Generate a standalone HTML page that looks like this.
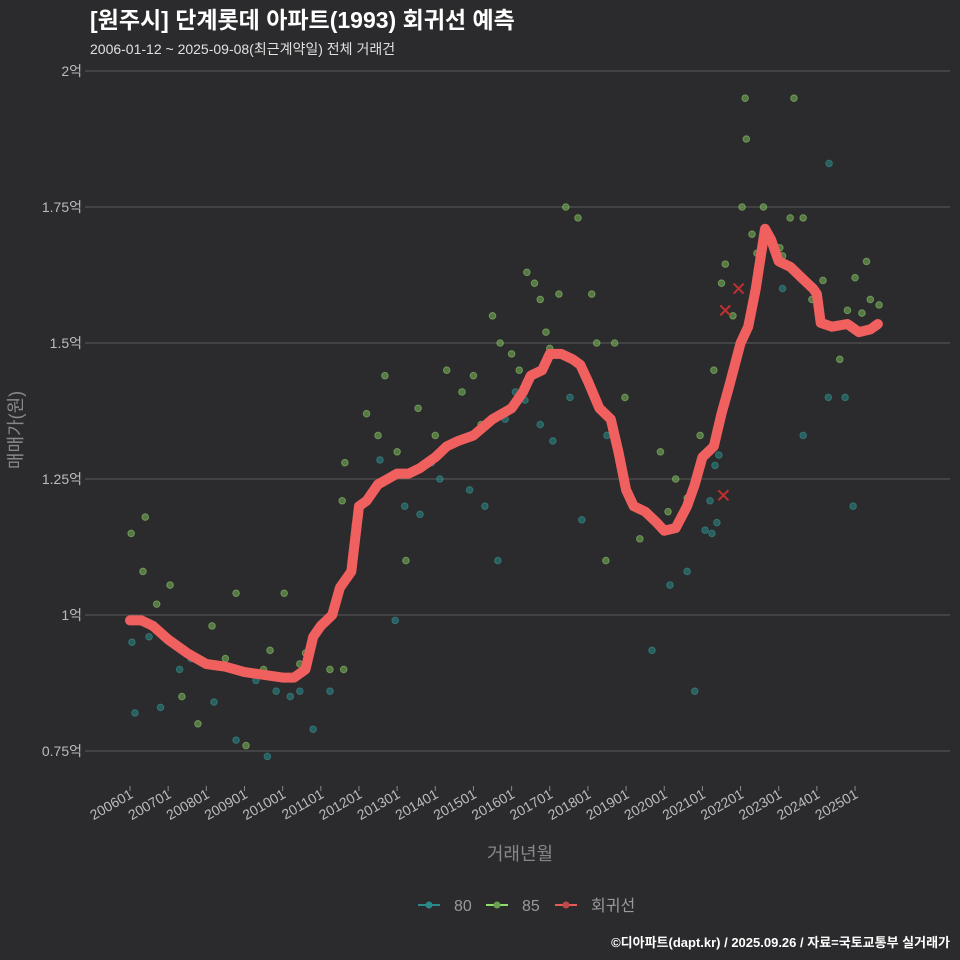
<!DOCTYPE html>
<html><head><meta charset="utf-8"><style>
body{margin:0;background:#2b2a2c;}
svg{display:block;font-family:"Liberation Sans","Noto Sans CJK KR",sans-serif;}
</style></head><body>
<svg id="chart" width="960" height="960" viewBox="0 0 960 960">
<rect width="960" height="960" fill="#2b2a2c"/>
<text x="90" y="28" fill="#ffffff" font-size="23" font-weight="bold">[원주시] 단계롯데 아파트(1993) 회귀선 예측</text>
<text x="90" y="54" fill="#e0e0e0" font-size="14">2006-01-12 ~ 2025-09-08(최근계약일) 전체 거래건</text>
<g id="grid"></g>
<g id="xaxis"></g>
<g id="pts"></g>
<g id="line"></g>
<text x="520" y="860" fill="#888" font-size="18" text-anchor="middle">거래년월</text>
<text transform="translate(22,430) rotate(-90)" fill="#888" font-size="18" text-anchor="middle">매매가(원)</text>
<g>
<g><line x1="418" y1="905" x2="440" y2="905" stroke="#2a8a8a" stroke-width="2"/><circle cx="429" cy="905" r="3.5" fill="#2a8a8a"/><text x="454" y="911" fill="#999" font-size="16">80</text></g>
<g><line x1="486" y1="905" x2="508" y2="905" stroke="#8fdc6a" stroke-width="2"/><circle cx="497" cy="905" r="3.5" fill="#6aa050"/><text x="522" y="911" fill="#999" font-size="16">85</text></g>
<g><line x1="555" y1="905" x2="577" y2="905" stroke="#e85a5a" stroke-width="2"/><circle cx="566" cy="905" r="3.5" fill="#c04848"/><text x="591" y="911" fill="#999" font-size="16">회귀선</text></g>
</g>
<text x="950" y="947" fill="#ffffff" font-size="13" font-weight="bold" text-anchor="end">©디아파트(dapt.kr) / 2025.09.26 / 자료=국토교통부 실거래가</text>
</svg>
<script>
const yTicks=[0.75,1,1.25,1.5,1.75,2];
const yTickLabels=["0.75억","1억","1.25억","1.5억","1.75억","2억"];
const xTicks=[2006,2007,2008,2009,2010,2011,2012,2013,2014,2015,2016,2017,2018,2019,2020,2021,2022,2023,2024,2025];
const xTickLabels=["200601","200701","200801","200901","201001","201101","201201","201301","201401","201501","201601","201701","201801","201901","202001","202101","202201","202301","202401","202501"];
const s80Years=[2006.05,2006.13,2006.5,2006.8,2007.3,2008.2,2008.78,2009.6,2009.83,2010.45,2010.8,2011.24,2011.9,2012.55,2012.95,2013.2,2013.6,2014.12,2014.9,2015.3,2015.64,2015.83,2016.35,2016.75,2017.08,2017.53,2017.84,2018.5,2019.15,2019.68,2020.15,2020.6,2020.8,2021.07,2021.2,2021.33,2021.43,2023.1,2023.64,2024.3,2024.74,2024.95,2024.32,2007.6,2009.3,2010.2,2013.9,2016.1,2021.25,2021.38];
const s80Values=[0.95,0.82,0.96,0.83,0.90,0.84,0.77,0.74,0.86,0.86,0.79,0.86,1.165,1.285,0.99,1.20,1.185,1.25,1.23,1.20,1.10,1.36,1.395,1.35,1.32,1.40,1.175,1.33,1.21,0.935,1.055,1.08,0.86,1.156,1.21,1.275,1.294,1.60,1.33,1.40,1.40,1.20,1.83,0.92,0.88,0.85,1.28,1.41,1.15,1.17];
const s85Years=[2006.03,2006.4,2006.34,2006.7,2007.05,2007.36,2007.78,2008.15,2008.78,2009.04,2010.04,2009.67,2010.45,2011.24,2011.6,2011.56,2011.63,2012.2,2012.68,2012.5,2013.23,2013.55,2014.3,2014.7,2015.0,2015.5,2015.7,2016.0,2016.4,2016.6,2016.75,2016.9,2017.24,2017.42,2017.74,2018.1,2018.23,2018.47,2018.97,2019.36,2019.9,2020.1,2020.6,2020.94,2021.3,2021.5,2021.6,2022.04,2022.12,2022.15,2022.43,2022.6,2023.03,2023.3,2023.4,2023.64,2023.87,2024.16,2024.6,2025.0,2025.18,2025.3,2025.63,2008.5,2009.5,2010.6,2012.0,2013.0,2014.0,2015.2,2016.2,2017.0,2018.7,2020.3,2021.8,2022.3,2023.1,2024.8,2025.4];
const s85Values=[1.15,1.18,1.08,1.02,1.055,0.85,0.80,0.98,1.04,0.76,1.04,0.935,0.91,0.90,0.90,1.21,1.28,1.37,1.44,1.33,1.10,1.38,1.45,1.41,1.44,1.55,1.50,1.48,1.63,1.61,1.58,1.52,1.59,1.75,1.73,1.59,1.50,1.10,1.40,1.14,1.30,1.19,1.215,1.33,1.45,1.61,1.645,1.75,1.95,1.875,1.665,1.75,1.675,1.73,1.95,1.73,1.58,1.615,1.47,1.62,1.555,1.65,1.57,0.92,0.90,0.93,1.18,1.30,1.33,1.35,1.45,1.49,1.50,1.25,1.55,1.70,1.66,1.56,1.58];
const regYears=[2006.0,2006.3,2006.6,2007.0,2007.5,2008.0,2008.5,2009.0,2009.5,2010.0,2010.3,2010.6,2010.8,2011.0,2011.3,2011.5,2011.8,2012.0,2012.2,2012.5,2013.0,2013.3,2013.6,2014.0,2014.3,2014.6,2015.0,2015.5,2016.0,2016.3,2016.5,2016.8,2017.0,2017.3,2017.6,2017.8,2018.0,2018.3,2018.6,2018.8,2019.0,2019.2,2019.5,2019.8,2020.0,2020.3,2020.6,2020.8,2021.0,2021.3,2021.5,2021.7,2022.0,2022.2,2022.4,2022.64,2022.8,2023.0,2023.3,2023.6,2023.9,2024.0,2024.1,2024.4,2024.8,2025.1,2025.4,2025.6];
const regValues=[0.99,0.99,0.98,0.955,0.93,0.91,0.905,0.895,0.89,0.885,0.885,0.90,0.96,0.98,1.0,1.05,1.08,1.2,1.21,1.24,1.26,1.26,1.27,1.29,1.31,1.32,1.33,1.36,1.38,1.41,1.44,1.45,1.48,1.48,1.47,1.46,1.43,1.38,1.36,1.3,1.23,1.2,1.19,1.17,1.155,1.16,1.2,1.24,1.29,1.31,1.37,1.42,1.5,1.53,1.6,1.71,1.69,1.65,1.64,1.62,1.6,1.59,1.537,1.53,1.535,1.52,1.525,1.535];
const flagYears=[2021.6,2021.95,2021.55];
const flagValues=[1.56,1.60,1.22];

const NS="http://www.w3.org/2000/svg";
const X=t=>130+(t-2006)*38.16;
const Y=v=>615-(v-1)*544;
function mk(tag,attrs,parent){const e=document.createElementNS(NS,tag);for(const k in attrs)e.setAttribute(k,attrs[k]);parent.appendChild(e);return e;}
const grid=document.getElementById('grid');
yTicks.forEach((v,i)=>{
  const l=mk('line',{x1:85,x2:950,y1:Y(v),y2:Y(v),stroke:'#5c5c5c','stroke-width':1},grid);
  
  
  const t=mk('text',{x:82,y:Y(v)+5,fill:'#bbb','font-size':14,'text-anchor':'end'},grid);
  t.textContent=yTickLabels[i];
  
  
});
const xa=document.getElementById('xaxis');
xTicks.forEach((t,i)=>{
  const x=X(t);
  const l=mk('line',{x1:x,x2:x,y1:786,y2:791,stroke:'#888'},xa);
  
  
  const tx=mk('text',{transform:`translate(${x+4},797) rotate(-30)`,fill:'#bbb','font-size':14,'text-anchor':'end'},xa);
  tx.textContent=xTickLabels[i];
  
  
});
const pts=document.getElementById('pts');
s80Years.forEach((t,i)=>{
  const c=mk('circle',{cx:X(t),cy:Y(s80Values[i]),r:3.3,fill:'#2a8a8a','fill-opacity':0.55,stroke:'#3aa0a0','stroke-opacity':0.5},pts);
  
  
});
s85Years.forEach((t,i)=>{
  const c=mk('circle',{cx:X(t),cy:Y(s85Values[i]),r:3.3,fill:'#7ab858','fill-opacity':0.55,stroke:'#9ad878','stroke-opacity':0.5},pts);
  
  
});
const lg=document.getElementById('line');
const d=regYears.map((t,i)=>(i?'L':'M')+X(t).toFixed(1)+','+Y(regValues[i]).toFixed(1)).join('');
const p=mk('path',{d:d,fill:'none',stroke:'#f0605f','stroke-width':10,'stroke-linejoin':'round','stroke-linecap':'round'},lg);


flagYears.forEach((t,i)=>{
  const x=X(t),y=Y(flagValues[i]);
  const f=mk('path',{d:`M${x-5},${y-5}L${x+5},${y+5}M${x-5},${y+5}L${x+5},${y-5}`,stroke:'#c03030','stroke-width':2},lg);
  
  
});
</script>
</body></html>
